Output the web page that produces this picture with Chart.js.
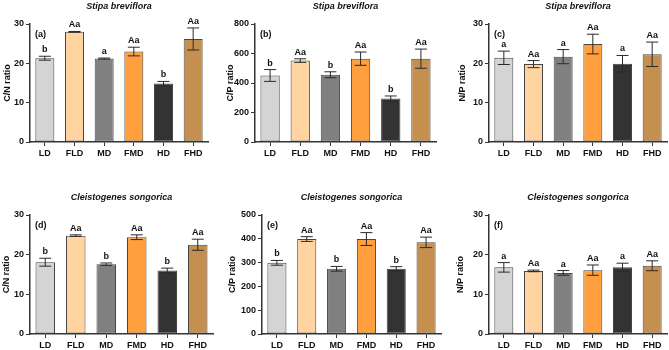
<!DOCTYPE html>
<html>
<head>
<meta charset="utf-8">
<script src="https://cdn.jsdelivr.net/npm/chart.js@4.4.1/dist/chart.umd.min.js"></script>
<style>
html, body { margin: 0; padding: 0; background: #fff; width: 669px; height: 350px; overflow: hidden; position: relative; }
canvas { position: absolute; }
</style>
</head>
<body>
<script>
const groups = ['LD', 'FLD', 'MD', 'FMD', 'HD', 'FHD'];

const cnStipa = [21.3, 28.0, 21.2, 23.0, 14.9, 26.2];
const cnStipaErr = [0.5, 0.1, 0.15, 1.1, 0.5, 2.8];
const cnStipaSig = ['b', 'Aa', 'a', 'Aa', 'b', 'Aa'];

const cpStipa = [451, 552, 456, 565, 295, 565];
const cpStipaErr = [40, 12, 20, 45, 17, 65];
const cpStipaSig = ['b', 'Aa', 'b', 'Aa', 'b', 'Aa'];

const npStipa = [21.4, 19.8, 21.7, 24.9, 19.9, 22.3];
const npStipaErr = [1.7, 0.9, 1.8, 2.5, 2.1, 3.1];
const npStipaSig = ['a', 'Aa', 'a', 'Aa', 'a', 'Aa'];

const cnCleis = [18.1, 24.8, 17.6, 24.4, 16.0, 22.5];
const cnCleisErr = [1.0, 0.2, 0.3, 0.6, 0.6, 1.4];
const cnCleisSig = ['b', 'Aa', 'b', 'Aa', 'b', 'Aa'];

const cpCleis = [299, 399, 274, 399, 274, 385];
const cpCleisErr = [10, 10, 10, 27, 9, 22];
const cpCleisSig = ['b', 'Aa', 'b', 'Aa', 'b', 'Aa'];

const npCleis = [16.8, 15.9, 15.4, 16.1, 16.8, 17.2];
const npCleisErr = [1.2, 0.2, 0.6, 1.3, 1.05, 1.25];
const npCleisSig = ['a', 'Aa', 'a', 'Aa', 'a', 'Aa'];

const barColors = ['#d4d4d4', '#ffd4a1', '#808080', '#ff9f3d', '#333333', '#c5904f'];
const fontFamily = '"Liberation Sans", Arial, sans-serif';

const errorBars = {
  id: 'errorBars',
  afterDatasetsDraw(chart, args, opts) {
    const ctx = chart.ctx;
    const y = chart.scales.y;
    const ds = chart.data.datasets[0];
    ctx.save();
    chart.getDatasetMeta(0).data.forEach((bar, i) => {
      const hi = y.getPixelForValue(ds.data[i] + ds.err[i]);
      const lo = y.getPixelForValue(ds.data[i] - ds.err[i]);
      ctx.strokeStyle = '#2a2a2a';
      ctx.lineWidth = 1;
      ctx.beginPath();
      ctx.moveTo(bar.x, hi); ctx.lineTo(bar.x, lo);
      ctx.moveTo(bar.x - 6, hi); ctx.lineTo(bar.x + 6, hi);
      ctx.moveTo(bar.x - 6, lo); ctx.lineTo(bar.x + 6, lo);
      ctx.stroke();
      ctx.fillStyle = '#111';
      ctx.font = 'bold 9px ' + fontFamily;
      ctx.textAlign = 'center';
      ctx.textBaseline = 'bottom';
      ctx.fillText(ds.sig[i], bar.x, hi - 2);
    });
    ctx.font = 'bold 9px ' + fontFamily;
    ctx.textAlign = 'left';
    ctx.textBaseline = 'middle';
    ctx.fillText(opts.tag, chart.chartArea.left + 5, chart.chartArea.top + 11);
    ctx.restore();
  }
};

function panel(p) {
  const c = document.createElement('canvas');
  c.width = p.w;
  c.height = p.h;
  c.style.left = p.x + 'px';
  c.style.top = p.y + 'px';
  document.body.appendChild(c);
  new Chart(c, {
    type: 'bar',
    plugins: [errorBars],
    data: {
      labels: groups,
      datasets: [{
        data: p.data,
        err: p.err,
        sig: p.sig,
        backgroundColor: barColors,
        borderColor: '#454545',
        borderWidth: 1,
        borderSkipped: false,
        barPercentage: 0.64,
        categoryPercentage: 1
      }]
    },
    options: {
      responsive: false,
      animation: false,
      layout: { padding: { right: 2, left: 0, top: 0, bottom: 0 } },
      plugins: {
        legend: { display: false },
        tooltip: { enabled: false },
        errorBars: { tag: p.tag },
        title: {
          display: true,
          text: p.title,
          fullSize: false,
          color: '#111',
          font: { family: fontFamily, size: 9, style: 'italic', weight: 'bold' },
          padding: { top: 1, bottom: 12.2 }
        }
      },
      scales: {
        x: {
          afterFit: s => { s.height = p.xH; },
          grid: { drawOnChartArea: false, offset: false, tickLength: 4, color: '#333', tickWidth: 1 },
          border: { color: '#333', width: 1.5 },
          ticks: { padding: 2, color: '#111', font: { family: fontFamily, size: 9, weight: 'bold' } }
        },
        y: {
          min: 0,
          max: p.max,
          afterFit: s => { s.width = p.yW; },
          grid: { drawOnChartArea: false, tickLength: 4, color: '#333', tickWidth: 1 },
          border: { color: '#333', width: 1.5 },
          ticks: { stepSize: p.step, padding: 2, color: '#111', font: { family: fontFamily, size: 9, weight: 'bold' } },
          title: {
            display: true,
            text: p.yTitle,
            color: '#111',
            padding: { top: 1, bottom: 0 },
            font: { family: fontFamily, size: 9, weight: 'bold' }
          }
        }
      }
    }
  });
}

panel({ x: 1, y: 0, w: 209, h: 175, yW: 29, xH: 33, title: 'Stipa breviflora', tag: '(a)', yTitle: 'C/N ratio', max: 30, step: 10, data: cnStipa, err: cnStipaErr, sig: cnStipaSig });
panel({ x: 224, y: 0, w: 214, h: 175, yW: 31, xH: 33, title: 'Stipa breviflora', tag: '(b)', yTitle: 'C/P ratio', max: 800, step: 200, data: cpStipa, err: cpStipaErr, sig: cpStipaSig });
panel({ x: 456, y: 0, w: 213, h: 175, yW: 33, xH: 33, title: 'Stipa breviflora', tag: '(c)', yTitle: 'N/P ratio', max: 30, step: 10, data: npStipa, err: npStipaErr, sig: npStipaSig });
panel({ x: 0, y: 191, w: 215, h: 159, yW: 30, xH: 16, title: 'Cleistogenes songorica', tag: '(d)', yTitle: 'C/N ratio', max: 30, step: 10, data: cnCleis, err: cnCleisErr, sig: cnCleisSig });
panel({ x: 226, y: 191, w: 217, h: 159, yW: 36, xH: 16, title: 'Cleistogenes songorica', tag: '(e)', yTitle: 'C/P ratio', max: 500, step: 100, data: cpCleis, err: cpCleisErr, sig: cpCleisSig });
panel({ x: 454, y: 191, w: 215, h: 159, yW: 35, xH: 16, title: 'Cleistogenes songorica', tag: '(f)', yTitle: 'N/P ratio', max: 30, step: 10, data: npCleis, err: npCleisErr, sig: npCleisSig });
</script>
</body>
</html>
